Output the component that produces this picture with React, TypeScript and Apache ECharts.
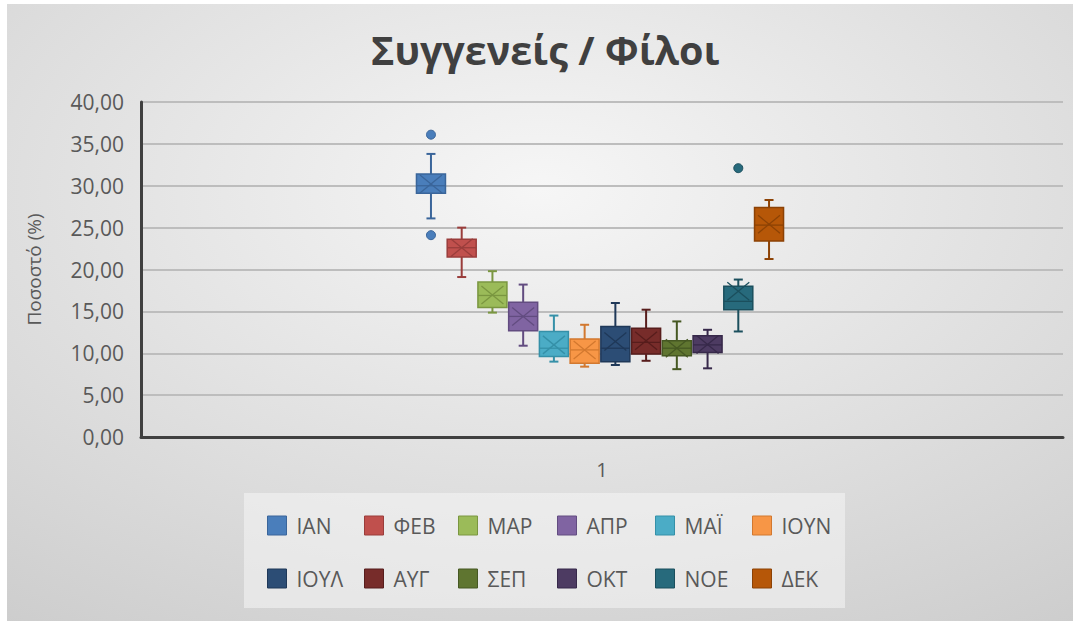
import React, { useEffect, useRef } from "react";
import * as echarts from "echarts";

const TITLE = "Συγγενείς / Φίλοι";
const Y_NAME = "Ποσοστό (%)";
const X_CATEGORIES = ["1"];
const MONTHS = ["ΙΑΝ", "ΦΕΒ", "ΜΑΡ", "ΑΠΡ", "ΜΑΪ", "ΙΟΥΝ", "ΙΟΥΛ", "ΑΥΓ", "ΣΕΠ", "ΟΚΤ", "ΝΟΕ", "ΔΕΚ"];
const MINS = [26.1, 19.1, 14.85, 10.9, 9.0, 8.4, 8.6, 9.1, 8.1, 8.2, 12.6, 21.25];
const Q1S = [29.1, 21.5, 15.45, 12.7, 9.6, 8.8, 9.0, 9.9, 9.7, 10.1, 15.2, 23.4];
const MEDIANS = [30.0, 22.6, 16.9, 14.4, 10.6, 10.4, 10.6, 11.3, 10.6, 11.0, 16.2, 25.3];
const Q3S = [31.4, 23.6, 18.5, 16.1, 12.6, 11.7, 13.2, 13.0, 11.5, 12.1, 18.0, 27.4];
const MAXS = [33.8, 25.0, 19.8, 18.2, 14.5, 13.4, 16.0, 15.2, 13.8, 12.8, 18.8, 28.3];
const MEANS = [30.2, 22.6, 16.95, 14.4, 11.0, 10.4, 11.4, 11.5, 10.6, 11.05, 17.4, 25.4];
const OUTLIERS: number[][] = [[36.1, 24.1], [], [], [], [], [], [], [], [], [], [32.1], []];

const FILLS = ["#4a7ebb", "#c0504d", "#9bbb59", "#8064a2", "#4bacc6", "#f79646", "#2c4d75", "#772c2a", "#5f7530", "#4d3b62", "#276a7c", "#b65708"];
const STROKES = ["#3a659a", "#9a3d3b", "#7a9640", "#624c80", "#3590a8", "#d2782f", "#1f3858", "#571d1c", "#465823", "#37294a", "#1b4f5d", "#8c4205"];

const LEGEND_COLS = [267, 364, 458, 557, 655, 752];
const FONT = "'Open Sans', 'Noto Sans', sans-serif";

function makeRender(fill: string, stroke: string) {
  return (params: any, api: any) => {
    const x = api.value(0);
    const pMin = api.coord([x, api.value(1)]);
    const pQ1 = api.coord([x, api.value(2)]);
    const pMed = api.coord([x, api.value(3)]);
    const pQ3 = api.coord([x, api.value(4)]);
    const pMax = api.coord([x, api.value(5)]);
    const pMean = api.coord([x, api.value(6)]);
    const cx = pMed[0];
    const hw = 14.5;
    const cap = 4.5;
    const xw = 11;
    const xh = 9;
    const ls = { stroke, lineWidth: 2 };
    const thin = { stroke, lineWidth: 1.3 };
    return {
      type: "group",
      children: [
        { type: "line", shape: { x1: cx, y1: pMax[1], x2: cx, y2: pQ3[1] }, style: ls },
        { type: "line", shape: { x1: cx, y1: pQ1[1], x2: cx, y2: pMin[1] }, style: ls },
        { type: "line", shape: { x1: cx - cap, y1: pMax[1], x2: cx + cap, y2: pMax[1] }, style: ls },
        { type: "line", shape: { x1: cx - cap, y1: pMin[1], x2: cx + cap, y2: pMin[1] }, style: ls },
        {
          type: "rect",
          shape: { x: cx - hw, y: pQ3[1], width: hw * 2, height: pQ1[1] - pQ3[1] },
          style: { fill, stroke, lineWidth: 1.5 },
        },
        { type: "line", shape: { x1: cx - hw, y1: pMed[1], x2: cx + hw, y2: pMed[1] }, style: thin },
        { type: "line", shape: { x1: cx - xw, y1: pMean[1] - xh, x2: cx + xw, y2: pMean[1] + xh }, style: thin },
        { type: "line", shape: { x1: cx - xw, y1: pMean[1] + xh, x2: cx + xw, y2: pMean[1] - xh }, style: thin },
      ],
    };
  };
}

export default function App() {
  const ref = useRef<HTMLDivElement>(null);
  useEffect(() => {
    document.body.style.margin = "0";
    if (!ref.current) return;
    const chart = echarts.init(ref.current, undefined, { renderer: "svg" });

    const boxSeries = MONTHS.map((m, i) => ({
      name: m,
      type: "custom",
      xAxisIndex: 1,
      yAxisIndex: 1,
      renderItem: makeRender(FILLS[i], STROKES[i]),
      encode: { x: 0, y: [1, 2, 3, 4, 5, 6] },
      itemStyle: { color: FILLS[i], borderColor: STROKES[i] },
      data: [[i, MINS[i], Q1S[i], MEDIANS[i], Q3S[i], MAXS[i], MEANS[i]]],
      z: 3,
    }));
    const outlierSeries = MONTHS.map((m, i) => ({
      name: m,
      type: "scatter",
      xAxisIndex: 1,
      yAxisIndex: 1,
      symbol: "circle",
      symbolSize: 9,
      itemStyle: { color: FILLS[i], borderColor: STROKES[i], borderWidth: 1, opacity: 1 },
      data: OUTLIERS[i].map((v) => [i, v]),
      z: 4,
    })).filter((s) => s.data.length > 0);

    const legends = LEGEND_COLS.map((left, c) => ({
      orient: "vertical",
      left,
      top: 515,
      padding: 0,
      itemGap: 32,
      itemWidth: 19,
      itemHeight: 19,
      icon: "rect",
      selectedMode: false,
      textStyle: { fontFamily: FONT, fontSize: 21, color: "#595959", lineHeight: 19, padding: [0, 0, 0, 5] },
      data: [c, c + 6].map((k) => ({
        name: MONTHS[k],
        itemStyle: { color: FILLS[k], borderColor: STROKES[k], borderWidth: 1 },
      })),
    }));

    chart.setOption({
      animation: false,
      title: {
        text: TITLE,
        left: 366,
        top: 25,
        textStyle: { fontFamily: FONT, fontSize: 39.5, fontWeight: "bold", color: "#404040" },
      },
      graphic: [
        {
          type: "rect",
          z: -10,
          shape: { x: 7, y: 4, width: 1066, height: 617 },
          style: {
            fill: {
              type: "radial",
              x: 0.5,
              y: 0.3,
              r: 1.1,
              colorStops: [
                { offset: 0, color: "#f6f6f6" },
                { offset: 1, color: "#c2c2c2" },
              ],
            },
          },
        },
        {
          type: "rect",
          z: -9,
          shape: { x: 244, y: 493, width: 601, height: 115 },
          style: { fill: "rgba(245,245,245,0.55)" },
        },
      ],
      legend: legends,
      grid: [
        { left: 141, right: 10, top: 102, bottom: 184 },
        { left: 415.6, width: 368.8, top: 102, bottom: 184 },
      ],
      xAxis: [
        {
          type: "category",
          gridIndex: 0,
          data: X_CATEGORIES,
          axisLine: { lineStyle: { color: "#404040", width: 3 } },
          axisTick: { show: false },
          axisLabel: { fontFamily: FONT, fontSize: 20, color: "#595959", margin: 22 },
        },
        {
          type: "category",
          gridIndex: 1,
          data: MONTHS,
          show: false,
        },
      ],
      yAxis: [
        {
          type: "value",
          gridIndex: 0,
          min: 0,
          max: 40,
          interval: 5,
          name: Y_NAME,
          nameLocation: "middle",
          nameRotate: 90,
          nameGap: 98,
          nameTextStyle: { fontFamily: FONT, fontSize: 19, color: "#595959" },
          axisLine: { show: true, lineStyle: { color: "#404040", width: 3 } },
          axisTick: { show: false },
          axisLabel: {
            fontFamily: FONT,
            fontSize: 21,
            color: "#595959",
            margin: 17,
            formatter: (v: number) => v.toFixed(2).replace(".", ","),
          },
          splitLine: { lineStyle: { color: "#bdbdbd", width: 2 } },
        },
        {
          type: "value",
          gridIndex: 1,
          min: 0,
          max: 40,
          show: false,
          splitLine: { show: false },
        },
      ],
      series: [...boxSeries, ...outlierSeries],
    });
    return () => chart.dispose();
  }, []);
  return <div ref={ref} style={{ width: 1073, height: 621, background: "#ffffff" }} />;
}
